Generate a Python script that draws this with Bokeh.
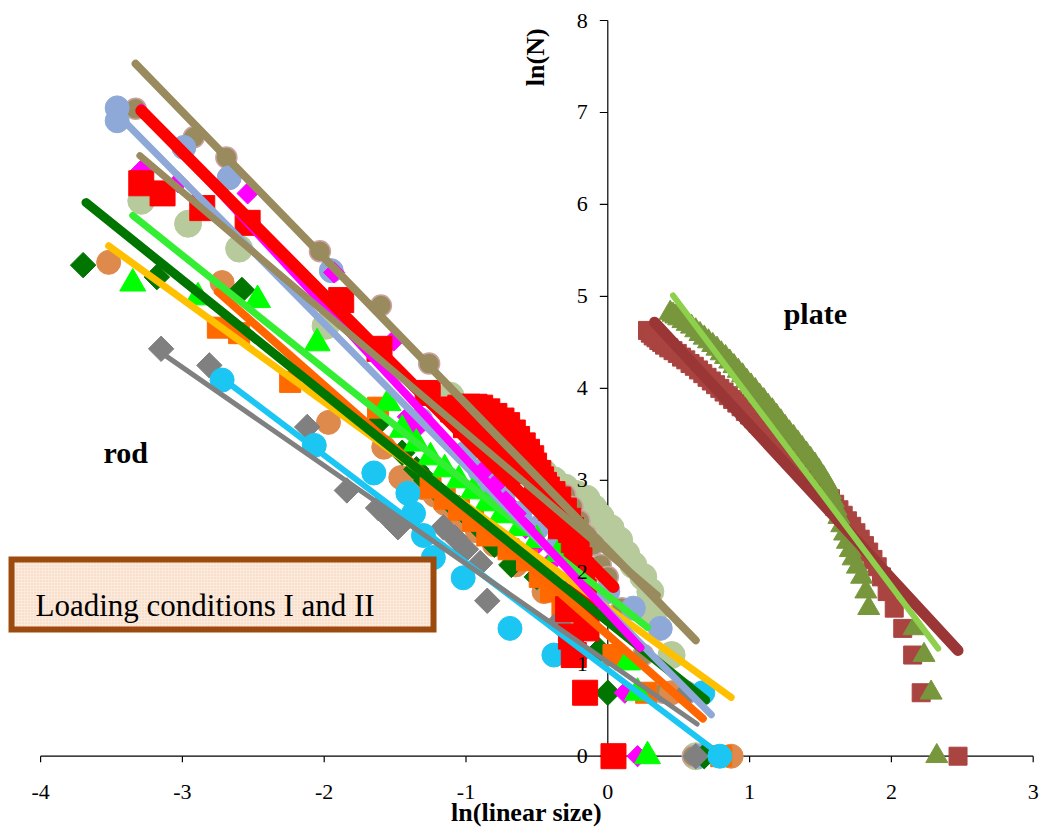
import numpy as np
from bokeh.plotting import figure
from bokeh.models import Range1d
from bokeh.core.properties import value
from bokeh.embed import file_html
from bokeh.resources import INLINE

# ---------------- data: rod (loading conditions I and II) ----------------
khaki_x = [-3.33, -2.92, -2.69, -2.03, -1.60, -1.26, -0.30, -0.25, -0.20, -0.15, -0.10, -0.05, 0.00, 0.10, 0.25, 0.39, 0.60]
khaki_y = [7.04, 6.73, 6.51, 5.49, 4.90, 4.27, 2.84, 2.71, 2.56, 2.40, 2.30, 2.08, 1.95, 1.61, 1.10, 0.69, 0.00]
khaki_fit_x = [-3.33, 0.62]
khaki_fit_y = [7.53, 1.26]

sage_x = [-3.29, -2.96, -2.60, -1.99, -1.11, -0.45, -0.38, -0.30, -0.22, -0.15, -0.10, -0.05, 0.02, 0.08, 0.13,
          0.18, 0.25, 0.30, 0.32, 0.45, 0.62]
sage_y = [6.04, 5.79, 5.52, 4.68, 3.92, 3.08, 3.00, 2.92, 2.85, 2.80, 2.70, 2.60, 2.48, 2.35, 2.20,
          2.08, 1.95, 1.79, 1.55, 1.10, 0.00]
sage_fit_x = [-3.30, 0.35]
sage_fit_y = [6.53, 1.75]

lblue_x = [-3.46, -3.46, -2.99, -2.67, -1.95, -1.32, -1.00, -0.90, -0.82, -0.74, -0.62, -0.50, -0.35, -0.20, 0.00, 0.18, 0.37, 0.55, 0.65]
lblue_y = [7.05, 6.91, 6.62, 6.29, 5.28, 3.66, 3.30, 3.10, 2.95, 2.80, 2.64, 2.48, 2.30, 2.08, 1.79, 1.61, 1.39, 0.69, 0.00]
lblue_fit_x = [-3.44, 0.73]
lblue_fit_y = [6.95, 0.45]

magenta_x = [-3.29, -3.03, -2.54, -1.93, -1.51, -1.41, -1.34, -0.88, -0.80, -0.72, -0.65, -0.58, -0.50, -0.42, -0.30, -0.15, 0.09, 0.12, 0.21]
magenta_y = [6.37, 6.24, 6.12, 5.26, 4.52, 3.69, 3.58, 3.10, 2.94, 2.77, 2.64, 2.48, 2.30, 2.08, 1.79, 1.39, 1.10, 0.69, 0.00]
magenta_fit_x = [-3.29, 0.23]
magenta_fit_y = [7.05, 1.18]

red_x = [-3.29, -3.14, -2.86, -2.54, -1.88, -1.61, -1.27,
         -1.09, -1.04, -0.99, -0.94, -0.90, -0.85, -0.80, -0.75, -0.71, -0.67, -0.64, -0.60, -0.57, -0.54,
         -0.52, -0.49, -0.47, -0.45, -0.43, -0.39, -0.35, -0.31, -0.28, -0.26, -0.24, -0.22, -0.20, -0.19,
         -0.18, -0.17, -0.16, -0.15, -0.16, 0.04,
         -1.00, -0.90, -0.80, -0.70, -0.60, -0.50, -0.40, -0.33, -0.28, -0.26, -0.24]
red_y = [6.23, 6.12, 5.96, 5.80, 4.96, 4.43, 3.95,
         3.77, 3.79, 3.80, 3.80, 3.79, 3.75, 3.70, 3.65, 3.60, 3.52, 3.45, 3.38, 3.31, 3.24,
         3.16, 3.08, 3.01, 2.95, 2.90, 2.85, 2.79, 2.67, 2.56, 2.46, 2.35, 2.24, 2.13, 2.02,
         1.90, 1.79, 1.61, 1.39, 0.69, 0.00,
         3.60, 3.50, 3.40, 3.25, 3.10, 2.90, 2.70, 2.50, 1.60, 1.30, 1.10]
red_fit_x = [-3.29, 0.04]
red_fit_y = [7.02, 1.84]

dgreen_x = [-3.70, -3.18, -2.58, -1.61, -1.45, -1.35, -1.28, -1.20, -1.12, -1.05, -0.98, -0.90, -0.80, -0.68, -0.50, -0.30, -0.06, 0.00, 0.68]
dgreen_y = [5.34, 5.21, 5.07, 3.64, 3.30, 3.12, 3.00, 2.88, 2.78, 2.70, 2.60, 2.48, 2.30, 2.08, 1.95, 1.61, 1.15, 0.69, 0.00]
dgreen_fit_x = [-3.68, 0.69]
dgreen_fit_y = [6.02, 0.61]

bgreen_x = [-3.35, -2.89, -2.47, -2.05, -1.55, -1.45, -1.35, -1.25, -1.15, -1.05, -0.95, -0.85, -0.75, -0.62, -0.50, -0.35, -0.18, 0.14, 0.21, 0.28]
bgreen_y = [5.14, 4.99, 4.96, 4.49, 3.84, 3.55, 3.40, 3.25, 3.12, 3.00, 2.88, 2.75, 2.62, 2.48, 2.35, 2.20, 2.00, 1.02, 0.69, 0.00]
bgreen_fit_x = [-3.35, 0.28]
bgreen_fit_y = [5.88, 1.40]

ocirc_x = [-3.52, -2.72, -1.97, -1.58, -1.46, -1.30, -1.22, -1.15, -1.08, -1.00, -0.92, -0.80, -0.65, -0.45, -0.20, 0.45, 0.87]
ocirc_y = [5.37, 5.15, 3.63, 3.36, 3.03, 2.92, 2.84, 2.75, 2.66, 2.57, 2.45, 2.30, 2.08, 1.79, 1.39, 0.69, 0.00]
gold_fit_x = [-3.52, 0.87]
gold_fit_y = [5.55, 0.64]

osq_x = [-2.75, -2.60, -2.24, -1.62, -1.25, -1.15, -1.05, -0.95, -0.85, -0.70, -0.57, -0.48, -0.40, -0.32, 0.04, 0.27, 0.80]
osq_y = [4.66, 4.60, 4.07, 3.79, 2.92, 2.80, 2.68, 2.56, 2.40, 2.25, 2.13, 1.95, 1.79, 1.61, 1.10, 0.69, 0.00]
osq_fit_x = [-2.75, 0.67]
osq_fit_y = [5.05, 0.41]

gray_x = [-3.15, -2.81, -2.12, -1.84, -1.62, -1.55, -1.48, -1.16, -1.08, -1.00, -0.90, -0.85, -0.35, -0.21, 0.56, 0.62]
gray_y = [4.43, 4.25, 3.58, 2.89, 2.70, 2.60, 2.49, 2.49, 2.38, 2.25, 2.10, 1.69, 1.45, 1.10, 0.69, 0.00]
gray_fit_x = [-3.17, 0.63]
gray_fit_y = [4.41, 0.35]

cyan_x = [-2.72, -2.07, -1.65, -1.41, -1.37, -1.30, -1.23, -1.02, -0.69, -0.38, 0.67, 0.79]
cyan_y = [4.09, 3.38, 3.08, 2.86, 2.64, 2.40, 2.16, 1.94, 1.39, 1.10, 0.69, 0.00]
cyan_fit_x = [-2.72, 0.80]
cyan_fit_y = [4.11, 0.01]

# ---------------- data: plate ----------------
brown_x = [0.28, 0.30, 0.32, 0.34, 0.36, 0.38, 0.40, 0.43, 0.46, 0.49, 0.52, 0.55, 0.58, 0.61, 0.64, 0.67,
           0.70, 0.73, 0.76, 0.79, 0.82, 0.85, 0.88, 0.91, 0.94, 0.97, 1.00, 1.03, 1.06, 1.09, 1.12, 1.15,
           1.18, 1.21, 1.24, 1.27, 1.30, 1.33, 1.36, 1.39, 1.42, 1.45, 1.48, 1.51, 1.54, 1.57, 1.60, 1.63,
           1.66, 1.69, 1.72, 1.75, 1.78, 1.81, 1.84, 1.87, 1.90, 1.93, 1.97, 2.02, 2.08, 2.15, 2.21, 2.47]
brown_y = [4.63, 4.60, 4.57, 4.55, 4.52, 4.50, 4.47, 4.44, 4.41, 4.38, 4.34, 4.31, 4.27, 4.24, 4.20, 4.16,
           4.12, 4.08, 4.04, 4.00, 3.96, 3.92, 3.88, 3.84, 3.80, 3.75, 3.71, 3.67, 3.62, 3.58, 3.53, 3.49,
           3.44, 3.40, 3.35, 3.30, 3.26, 3.21, 3.16, 3.11, 3.06, 3.01, 2.96, 2.91, 2.85, 2.80, 2.74, 2.68,
           2.62, 2.56, 2.50, 2.43, 2.36, 2.29, 2.22, 2.14, 2.06, 1.95, 1.79, 1.61, 1.39, 1.10, 0.69, 0.00]
brown_fit_x = [0.33, 2.47]
brown_fit_y = [4.72, 1.15]

olive_x = [0.44, 0.46, 0.48, 0.50, 0.53, 0.56, 0.59, 0.62, 0.65, 0.68, 0.71, 0.74, 0.77, 0.80, 0.83, 0.86,
           0.89, 0.92, 0.95, 0.98, 1.01, 1.04, 1.07, 1.10, 1.13, 1.16, 1.19, 1.22, 1.25, 1.28, 1.31, 1.34,
           1.37, 1.40, 1.43, 1.46, 1.49, 1.52, 1.55, 1.57, 1.59, 1.61, 1.63, 1.65, 1.67, 1.69, 1.71, 1.73,
           1.76, 1.79, 1.82, 1.84, 2.16, 2.23, 2.28, 2.32]
olive_y = [4.82, 4.80, 4.78, 4.76, 4.73, 4.70, 4.67, 4.63, 4.59, 4.55, 4.51, 4.47, 4.43, 4.38, 4.34, 4.29,
           4.24, 4.19, 4.14, 4.08, 4.03, 3.98, 3.92, 3.87, 3.81, 3.76, 3.70, 3.64, 3.58, 3.52, 3.47, 3.41,
           3.35, 3.29, 3.23, 3.17, 3.10, 3.03, 2.95, 2.87, 2.78, 2.69, 2.60, 2.51, 2.42, 2.33, 2.24, 2.15,
           2.06, 1.95, 1.79, 1.61, 1.39, 1.10, 0.69, 0.00]
olive_fit_x = [0.46, 2.33]
olive_fit_y = [5.01, 1.17]

# ---------------- axes ----------------
x_ticks = [-4, -3, -2, -1, 0, 1, 2, 3]
x_tick_labels = ["-4", "-3", "-2", "-1", "0", "1", "2", "3"]
y_ticks = [0, 1, 2, 3, 4, 5, 6, 7, 8]
y_tick_labels = ["0", "1", "2", "3", "4", "5", "6", "7", "8"]

PXX = 141.8   # pixels per x unit
PXY = 91.96   # pixels per y unit

p = figure(width=1040, height=827, output_backend="svg", toolbar_location=None,
           x_range=Range1d(-607.3 / PXX, (1040 - 607.3) / PXX),
           y_range=Range1d(-(827 - 755.7) / PXY, 755.7 / PXY),
           x_axis_location=None, y_axis_location=None, min_border=0,
           outline_line_color=None, background_fill_color="white", border_fill_color="white")
p.grid.visible = False

# axis lines (under data)
p.segment(x0=[x_ticks[0]], y0=[0], x1=[x_ticks[-1]], y1=[0], line_color="black", line_width=1.2)
p.segment(x0=x_ticks, y0=[0] * len(x_ticks), x1=x_ticks, y1=[-6 / PXY] * len(x_ticks), line_color="black", line_width=1.2)
p.segment(x0=[0], y0=[y_ticks[0]], x1=[0], y1=[y_ticks[-1]], line_color="black", line_width=1.2)
p.segment(x0=[-8 / PXX] * len(y_ticks), y0=y_ticks, x1=[0] * len(y_ticks), y1=y_ticks, line_color="black", line_width=1.2)

D45 = np.pi / 4

# markers (bottom to top)
p.scatter(sage_x, sage_y, marker="circle", size=27, fill_color="#B7CA9C", line_color="#B7CA9C")
p.scatter(khaki_x, khaki_y, marker="circle", size=21, fill_color="#9A8B5E", line_color="#C9A2A2", line_width=1.5)
p.scatter(lblue_x, lblue_y, marker="circle", size=24, fill_color="#8EA9D8", line_color="#8EA9D8")
p.scatter(ocirc_x, ocirc_y, marker="circle", size=24, fill_color="#DE8A4C", line_color="#DE8A4C")
p.scatter(dgreen_x, dgreen_y, marker="square", angle=D45, size=18, fill_color="#007500", line_color="#007500")
p.scatter(magenta_x, magenta_y, marker="square", angle=D45, size=15, fill_color="#FF00FF", line_color="#FF00FF")
p.scatter(osq_x, osq_y, marker="square", size=21, fill_color="#FF6A00", line_color="#FF6A00")
p.scatter(bgreen_x, bgreen_y, marker="triangle", size=26, fill_color="#00FF00", line_color="#00FF00")
p.scatter(gray_x, gray_y, marker="square", angle=D45, size=18, fill_color="#808080", line_color="#808080")
p.scatter(cyan_x, cyan_y, marker="circle", size=24, fill_color="#1CC6F2", line_color="#1CC6F2")
p.scatter(red_x, red_y, marker="square", size=25, fill_color="#FF0000", line_color="#FF0000")
p.scatter(brown_x, brown_y, marker="square", size=18, fill_color="#AA4440", line_color="#AA4440")
p.scatter(olive_x, olive_y, marker="triangle", size=22, fill_color="#78963C", line_color="#78963C")

# fit lines
def fit(xs, ys, color, w):
    p.line(xs, ys, line_color=color, line_width=w, line_cap="round")

fit(cyan_fit_x, cyan_fit_y, "#1CC6F2", 6)
fit(gray_fit_x, gray_fit_y, "#808080", 5)
fit(osq_fit_x, osq_fit_y, "#FF6600", 8)
fit(gold_fit_x, gold_fit_y, "#FFC000", 7)
fit(dgreen_fit_x, dgreen_fit_y, "#007500", 9)
fit(bgreen_fit_x, bgreen_fit_y, "#33EE33", 7)
fit(lblue_fit_x, lblue_fit_y, "#8EA9D8", 7)
fit(magenta_fit_x, magenta_fit_y, "#FF00FF", 8)
fit(red_fit_x, red_fit_y, "#FF0000", 12)
fit(sage_fit_x, sage_fit_y, "#9A8B5E", 7)
fit(khaki_fit_x, khaki_fit_y, "#9A8B5E", 8)
fit(brown_fit_x, brown_fit_y, "#9B3636", 11)
fit(olive_fit_x, olive_fit_y, "#8ED04C", 6)

SERIF = value("Liberation Serif")

# tick labels
p.text(x=x_ticks, y=[-36 / PXY] * len(x_ticks), text=x_tick_labels, text_align="center",
       text_baseline="alphabetic", text_font=SERIF, text_font_size="22px", text_color="black")
p.text(x=[-20 / PXX] * len(y_ticks), y=y_ticks, text=y_tick_labels, text_align="right",
       text_baseline="middle", text_font=SERIF, text_font_size="22px", text_color="black")

# axis titles
p.text(x=[-0.573], y=[-0.615], text=["ln(linear size)"], text_align="center", text_baseline="alphabetic",
       text_font=SERIF, text_font_size="26px", text_font_style="bold", text_color="black")
p.text(x=[-0.511], y=[7.60], text=["ln(N)"], angle=np.pi / 2, text_align="center", text_baseline="middle",
       text_font=SERIF, text_font_size="26px", text_font_style="bold", text_color="black")

# region labels
p.text(x=[-3.556], y=[3.30], text=["rod"], text_align="left", text_baseline="alphabetic",
       text_font=SERIF, text_font_size="30px", text_font_style="bold", text_color="black")
p.text(x=[1.24], y=[4.81], text=["plate"], text_align="left", text_baseline="alphabetic",
       text_font=SERIF, text_font_size="30px", text_font_style="bold", text_color="black")

# text box
p.quad(left=[-4.205], right=[-1.229], bottom=[1.378], top=[2.139], fill_color="#FCEBDD",
       hatch_pattern="dot", hatch_color="#F3CDB2", hatch_scale=3, hatch_weight=1,
       line_color="#9C4A0E", line_width=6, line_join="miter")
p.text(x=[-4.036], y=[1.639], text=["Loading conditions I and II"], text_align="left", text_baseline="alphabetic",
       text_font=SERIF, text_font_size="31px", text_color="black")

open("out.html", "w").write(file_html(p, INLINE))
